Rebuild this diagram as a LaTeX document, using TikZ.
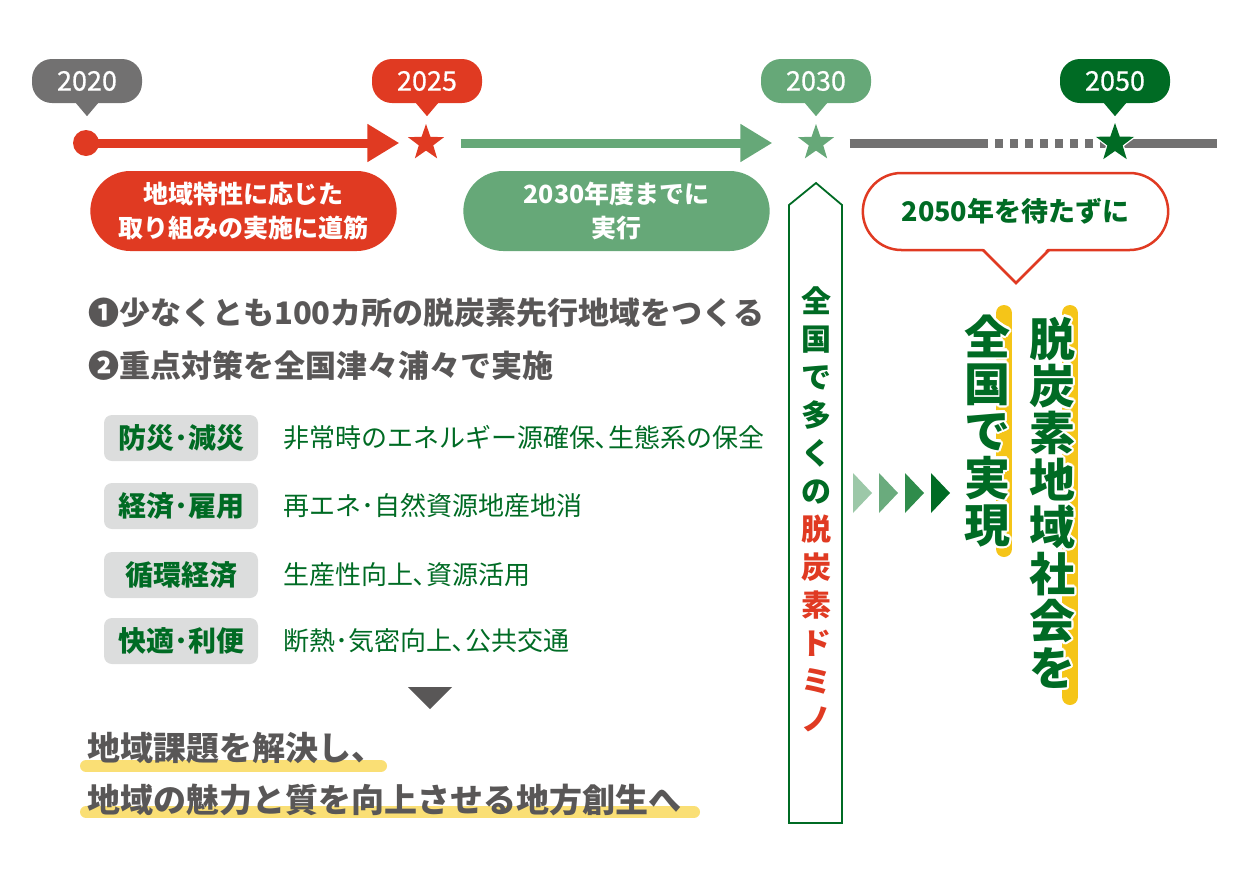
\documentclass[tikz,border=0pt]{standalone}
\usepackage{fontspec}
\setmainfont{Noto Sans CJK JP}
\newfontfamily\medfont{Noto Sans CJK JP}[FakeBold=0.6]
\usepackage[copies]{contour}
\contourlength{2.5pt}
\usetikzlibrary{arrows.meta,shapes.geometric,shapes.misc}

\definecolor{cred}{HTML}{E03A22}
\definecolor{cgreen}{HTML}{66A878}
\definecolor{cdark}{HTML}{006B24}
\definecolor{cgray}{HTML}{727171}
\definecolor{ctext}{HTML}{595757}
\definecolor{clabel}{HTML}{DCDDDD}
\definecolor{cyel}{HTML}{F5C518}
\definecolor{cyel2}{HTML}{FADF75}
\definecolor{ch1}{HTML}{9CC8A8}
\definecolor{ch2}{HTML}{6AAB7D}
\definecolor{ch3}{HTML}{2F8C4B}

\begin{document}
\begin{tikzpicture}[x=1pt, y=-1pt,
    tag/.style={fill=#1, rounded corners=20pt, minimum width=110pt, minimum height=44pt,
      inner sep=0pt, text=white, font=\medfont\fontsize{27}{30}\selectfont},
    star5/.style={star, star points=5, star point ratio=2.5, fill=#1,
      minimum size=38pt, inner sep=0pt},
    tline/.style={draw=#1, line width=9pt},
    pill/.style={rounded rectangle, fill=#1, minimum width=313pt, minimum height=80pt,
      text=white, align=center, font=\bfseries\fontsize{25}{34}\selectfont},
    lbl/.style={fill=clabel, rounded corners=8pt, minimum width=154pt, minimum height=46pt,
      inner sep=0pt, text=cdark, font=\bfseries\fontsize{28}{30}\selectfont},
    item/.style={anchor=west, inner sep=0pt, text=cdark, font=\fontsize{26}{30}\selectfont},
    main/.style={anchor=west, inner sep=0pt, text=ctext, font=\bfseries\fontsize{31}{36}\selectfont},
    bigv/.style={align=center, inner sep=0pt, text=cdark, font=\bfseries\fontsize{46}{47}\selectfont},
    bar/.style={draw=cyel, line width=16pt, line cap=round}]

    \useasboundingbox (0,0) rectangle (1251,876);

    % timeline
    \node[circle, fill=cred, minimum size=26pt, inner sep=0pt] (d2020) at (86,143) {};
    \node[star5=cred] (s2025) at (426,143) {};
    \node[star5=cgreen] (s2030) at (816,143) {};
    \coordinate (g1) at (988,143);
    \coordinate (g2) at (995,143);
    \coordinate (tend) at (1217,143);

    \draw[tline=cred, -{Triangle[width=36pt,length=32pt]}, shorten >=16pt] (d2020.center) -- (s2025);
    \draw[tline=cgreen, -{Triangle[width=36pt,length=32pt]}, shorten <=24pt, shorten >=33pt] (s2025) -- (s2030);
    \draw[tline=cgray, shorten <=23pt] (s2030) -- (g1);
    \draw[tline=cgray, dash pattern=on 8pt off 7pt] (g2) -- (1110,143);
    \draw[tline=cgray] (1110,143) -- (tend);
    \node[star5=white, minimum size=48pt] (s2050w) at (1115,143) {};
    \node[star5=cdark, minimum size=40pt] (s2050) at (1115,143) {};

    % year tags
    \node[tag=cgray] (y2020) at (87,81) {2020};
    \fill[cgray] ([xshift=-11pt]y2020.south) -- ([xshift=11pt]y2020.south) -- ([yshift=-13pt]y2020.south) -- cycle;
    \node[tag=cred] (y2025) at (427,81) {2025};
    \fill[cred] ([xshift=-11pt]y2025.south) -- ([xshift=11pt]y2025.south) -- ([yshift=-13pt]y2025.south) -- cycle;
    \node[tag=cgreen] (y2030) at (816,81) {2030};
    \fill[cgreen] ([xshift=-11pt]y2030.south) -- ([xshift=11pt]y2030.south) -- ([yshift=-13pt]y2030.south) -- cycle;
    \node[tag=cdark] (y2050) at (1115,81) {2050};
    \fill[cdark] ([xshift=-11pt]y2050.south) -- ([xshift=11pt]y2050.south) -- ([yshift=-13pt]y2050.south) -- cycle;

    % phases
    \node[pill=cred] (p2025) at (243.5,211) {地域特性に応じた\\取り組みの実施に道筋};
    \node[pill=cgreen] (p2030) at (616.5,211) {2030年度までに\\実行};

    \node[rounded rectangle, draw=cred, line width=2.5pt, fill=white, minimum width=312pt,
      minimum height=77pt, text=cdark, font=\bfseries\fontsize{27}{30}\selectfont] (wait) at (1015.5,211.5) {2050年を待たずに};
    \fill[white] (982,247) -- (1049,247) -- (1016,282) -- cycle;
    \draw[cred, line width=2.5pt] (983,250) -- (1016,283) -- (1049,250);

    % domino arrow
    \draw[cdark, line width=1.8pt, fill=white] (789,823) -- (789,205) -- (816,183) -- (842,205) -- (842,823) -- cycle;
    \node[align=center, inner sep=0pt, text=cdark, font=\bfseries\fontsize{30}{38}\selectfont] (domino) at (816,509)
      {全\\国\\で\\多\\く\\の\\\textcolor{cred}{脱}\\\textcolor{cred}{炭}\\\textcolor{cred}{素}\\\textcolor{cred}{ド}\\\textcolor{cred}{ミ}\\\textcolor{cred}{ノ}};

    % chevrons
    \fill[ch1] (853,473) -- (872,493) -- (853,513) -- cycle;
    \fill[ch2] (879,473) -- (898,493) -- (879,513) -- cycle;
    \fill[ch3] (905,473) -- (924,493) -- (905,513) -- cycle;
    \fill[cdark] (931,473) -- (950,493) -- (931,513) -- cycle;

    % goal
    \draw[bar] (1004,313) -- (1004,549);
    \draw[bar] (1070,313) -- (1070,697);
    \node[bigv] (goal1) at (987,432)
      {\contour{white}{全}\\\contour{white}{国}\\\contour{white}{で}\\\contour{white}{実}\\\contour{white}{現}};
    \node[bigv] (goal2) at (1052,504)
      {\contour{white}{脱}\\\contour{white}{炭}\\\contour{white}{素}\\\contour{white}{地}\\\contour{white}{域}\\\contour{white}{社}\\\contour{white}{会}\\\contour{white}{を}};

    % measures
    \node[main] (m1) at (88,313) {❶少なくとも100カ所の脱炭素先行地域をつくる};
    \node[main] (m2) at (88,366) {❷重点対策を全国津々浦々で実施};

    \node[lbl] (l1) at (181,438) {防災･減災};
    \node[item] (t1) at (283,438) {非常時のエネルギー源確保､生態系の保全};
    \node[lbl] (l2) at (181,506) {経済･雇用};
    \node[item] (t2) at (283,506) {再エネ･自然資源地産地消};
    \node[lbl] (l3) at (181,575) {循環経済};
    \node[item] (t3) at (283,575) {生産性向上､資源活用};
    \node[lbl] (l4) at (181,641) {快適･利便};
    \node[item] (t4) at (283,641) {断熱･気密向上､公共交通};

    \fill[ctext] (408,687) -- (452,687) -- (430,709) -- cycle;

    % result
    \draw[draw=cyel2, line width=12pt, line cap=round] (86,766) -- (381,766);
    \draw[draw=cyel2, line width=12pt, line cap=round] (86,812) -- (694,812);
    \node[anchor=west, inner sep=0pt, text=ctext, font=\bfseries\fontsize{33}{36}\selectfont] (r1) at (87,748) {地域課題を解決し、};
    \node[anchor=west, inner sep=0pt, text=ctext, font=\bfseries\fontsize{33}{36}\selectfont] (r2) at (87,800) {地域の魅力と質を向上させる地方創生へ};
  \end{tikzpicture}
\end{document}
